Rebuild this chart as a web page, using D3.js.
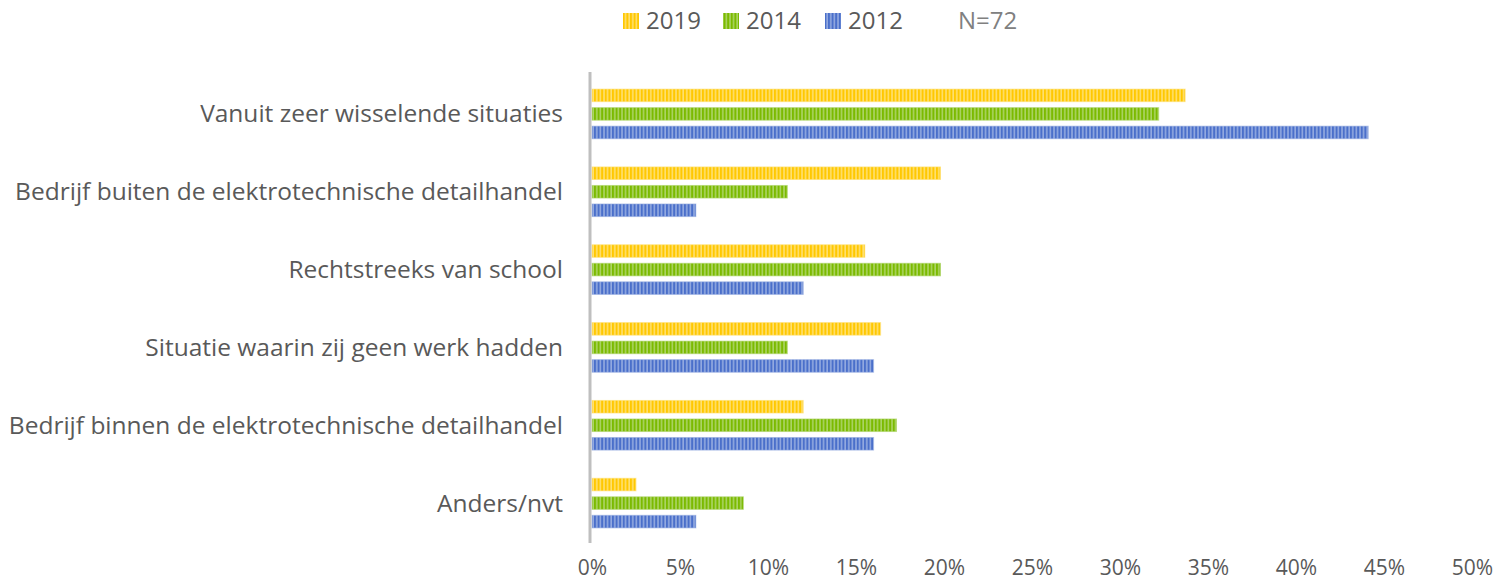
<!DOCTYPE html>
<html>
<head>
<meta charset="utf-8">
<script src="https://cdn.jsdelivr.net/npm/d3@7"></script>
<style>
  html, body { margin: 0; padding: 0; background: #fff; }
  svg { display: block; }
  text { font-family: "Open Sans", "Noto Sans", sans-serif; }
</style>
</head>
<body>
<svg id="chart" width="1499" height="582"></svg>
<script>
const categories = [
  "Vanuit zeer wisselende situaties",
  "Bedrijf buiten de elektrotechnische detailhandel",
  "Rechtstreeks van school",
  "Situatie waarin zij geen werk hadden",
  "Bedrijf binnen de elektrotechnische detailhandel",
  "Anders/nvt"
];
const seriesNames = ["2019", "2014", "2012"];
const values2019 = [33.7, 19.8, 15.5, 16.4, 12.0, 2.5];
const values2014 = [32.2, 11.1, 19.8, 11.1, 17.3, 8.6];
const values2012 = [44.1, 5.9, 12.0, 16.0, 16.0, 5.9];
const xTicks = [0, 5, 10, 15, 20, 25, 30, 35, 40, 45, 50];
const noteText = "N=72";

const seriesValues = { "2019": values2019, "2014": values2014, "2012": values2012 };
const colors = {
  "2019": { dark: "#FFC800", light: "#FFE070" },
  "2014": { dark: "#7BBA00", light: "#ACD466" },
  "2012": { dark: "#4A6FCA", light: "#93AAE0" }
};

const svg = d3.select("#chart");
const defs = svg.append("defs");
seriesNames.forEach(s => {
  const p = defs.append("pattern")
    .attr("id", "pat" + s)
    .attr("patternUnits", "userSpaceOnUse")
    .attr("width", 3.6).attr("height", 10);
  p.append("rect").attr("width", 3.6).attr("height", 10).attr("fill", colors[s].light);
  p.append("rect").attr("width", 2).attr("height", 10).attr("fill", colors[s].dark);
});

const x = d3.scaleLinear().domain([0, 50]).range([592, 1472]);
const y0 = d3.scaleBand().domain(categories).range([75, 542]).paddingInner(0).paddingOuter(0);
const y1 = d3.scaleBand().domain(seriesNames).range([0, y0.bandwidth()]).paddingInner(0.32).paddingOuter(0.76);

const labelColor = "#595959";

// bars
const groups = svg.append("g").selectAll("g")
  .data(categories)
  .join("g")
  .attr("transform", d => `translate(0,${y0(d)})`);

groups.selectAll("rect")
  .data((c, i) => seriesNames.map(s => ({ s, v: seriesValues[s][i] })))
  .join("rect")
  .attr("x", x(0))
  .attr("y", d => y1(d.s))
  .attr("width", d => x(d.v) - x(0))
  .attr("height", y1.bandwidth())
  .attr("fill", d => `url(#pat${d.s})`)
  .attr("stroke", d => colors[d.s].light)
  .attr("stroke-opacity", 0.6)
  .attr("stroke-width", 1);

// vertical axis line
svg.append("line")
  .attr("x1", 590).attr("x2", 590)
  .attr("y1", 72).attr("y2", 543)
  .attr("stroke", "#BFBFBF").attr("stroke-width", 3);

// category labels
const fs = 24.5;
svg.append("g").selectAll("text")
  .data(categories)
  .join("text")
  .attr("x", 563)
  .attr("y", d => y0(d) + y0.bandwidth() / 2)
  .attr("dy", "0.35em")
  .attr("text-anchor", "end")
  .attr("font-size", fs)
  .attr("fill", labelColor)
  .text(d => d);

// x axis tick labels
const xAxis = d3.axisBottom(x).tickValues(xTicks).tickSize(0).tickPadding(0).tickFormat(d => d + "%");
const gx = svg.append("g").attr("transform", "translate(0,575)").call(xAxis);
gx.select(".domain").remove();
gx.selectAll("text")
  .attr("y", 0)
  .attr("dy", 0)
  .attr("font-size", 21)
  .attr("fill", labelColor)
  .attr("font-family", "'Open Sans', 'Noto Sans', sans-serif");

// legend
const legendX = { "2019": 623, "2014": 723, "2012": 825 };
const lg = svg.append("g");
seriesNames.forEach(s => {
  lg.append("rect")
    .attr("x", legendX[s]).attr("y", 13)
    .attr("width", 16).attr("height", 16)
    .attr("fill", `url(#pat${s})`);
  lg.append("text")
    .attr("x", legendX[s] + 23).attr("y", 28.5)
    .attr("font-size", 24)
    .attr("fill", labelColor)
    .text(s);
});
lg.append("text")
  .attr("x", 958).attr("y", 28.5)
  .attr("font-size", 24)
  .attr("fill", "#808080")
  .text(noteText);
</script>
</body>
</html>
